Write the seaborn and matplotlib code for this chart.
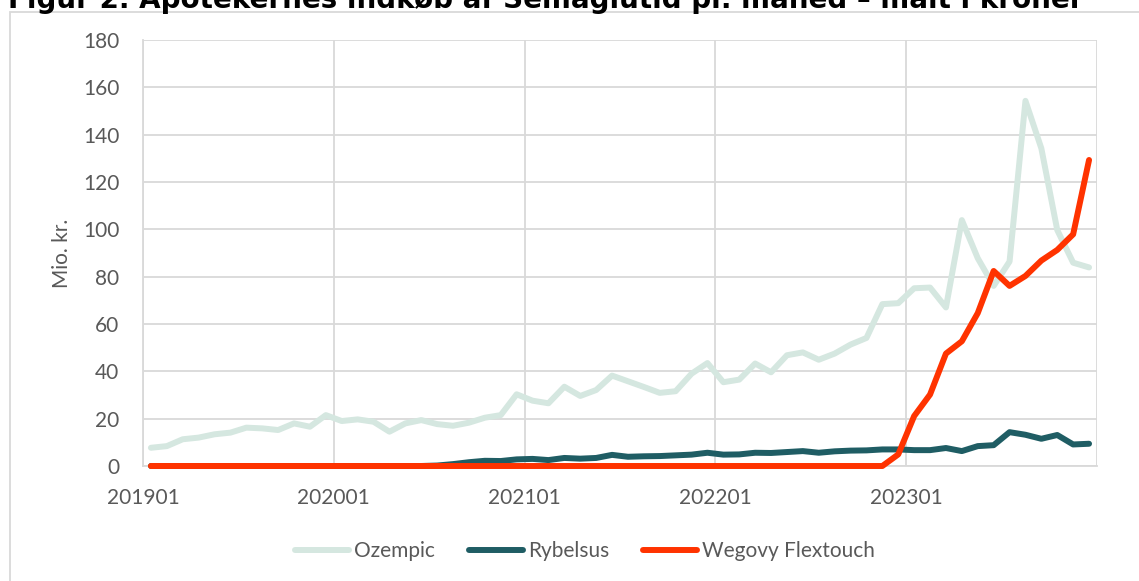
import pandas as pd
import seaborn as sns
import matplotlib.pyplot as plt
from matplotlib.patches import Rectangle

# data (Mio. kr. per month, 2019-01 .. 2023-12)
years = [2019, 2020, 2021, 2022, 2023]
months = [f"{y}{m:02d}" for y in years for m in range(1, 13)]

ozempic = [
    7.7, 8.4, 11.3, 12.0, 13.4, 14.1, 16.2, 15.9, 15.2, 18.0, 16.6, 21.5,
    19.0, 19.7, 18.7, 14.5, 18.0, 19.4, 17.7, 17.0, 18.3, 20.4, 21.5, 30.3,
    27.6, 26.5, 33.5, 29.6, 32.1, 38.2, 35.8, 33.4, 30.9, 31.6, 39.0, 43.5,
    35.4, 36.5, 43.3, 39.6, 46.8, 48.0, 44.9, 47.5, 51.3, 54.1, 68.4, 68.8,
    75.1, 75.4, 67.0, 103.9, 87.8, 76.1, 86.4, 154.3, 134.2, 99.7, 85.9, 83.9,
]
rybelsus = [
    0, 0, 0, 0, 0, 0, 0, 0, 0, 0, 0, 0,
    0, 0, 0, 0, 0, 0, 0.2, 0.8, 1.6, 2.2, 2.1, 2.8,
    3.0, 2.5, 3.4, 3.1, 3.4, 4.7, 3.9, 4.1, 4.2, 4.5, 4.8, 5.6,
    4.8, 4.9, 5.6, 5.5, 5.9, 6.3, 5.6, 6.2, 6.5, 6.6, 7.0, 7.0,
    6.7, 6.7, 7.6, 6.3, 8.4, 8.8, 14.3, 13.2, 11.5, 13.1, 9.1, 9.4,
]
wegovy = [
    0, 0, 0, 0, 0, 0, 0, 0, 0, 0, 0, 0,
    0, 0, 0, 0, 0, 0, 0, 0, 0, 0, 0, 0,
    0, 0, 0, 0, 0, 0, 0, 0, 0, 0, 0, 0,
    0, 0, 0, 0, 0, 0, 0, 0, 0, 0, 0, 4.9,
    21.1, 30.2, 47.5, 52.7, 64.6, 82.4, 76.1, 80.3, 86.8, 91.3, 97.9, 129.3,
]
series_names = ["Ozempic", "Rybelsus", "Wegovy Flextouch"]
colors = ["#d5e7e0", "#1f5d64", "#ff3300"]

title = "Figur 2. Apotekernes indkøb af Semaglutid pr. måned \u2013 målt i kroner"

df = pd.DataFrame({
    "idx": list(range(len(months))) * 3,
    "value": ozempic + rybelsus + wegovy,
    "series": [s for s in series_names for _ in months],
})

sns.set_theme(style="white")
plt.rcParams["font.family"] = ["Lato", "DejaVu Sans"]
grid_c = "#d9d9d9"
text_c = "#595959"

fig = plt.figure(figsize=(11.39, 5.81), dpi=100)
ax = fig.add_axes([143 / 1139, 1 - 466 / 581, 954 / 1139, 426 / 581])

sns.lineplot(data=df, x="idx", y="value", hue="series", hue_order=series_names,
             palette=colors, linewidth=4.3, ax=ax, legend=False, sort=False)
for line in ax.get_lines():
    line.set_solid_capstyle("round")
    line.set_solid_joinstyle("round")
    line.set_clip_on(False)
    line.set_zorder(3)

ax.set_xlim(-0.5, len(months) - 0.5)
ax.set_ylim(0, 180)
ax.set_yticks(range(0, 181, 20))
xt = [i - 0.5 for i in range(0, len(months) + 1, 12)]
ax.set_xticks(xt)
ax.set_xticklabels([months[i] for i in range(0, len(months), 12)] + [""])
ax.grid(True, color=grid_c, linewidth=1.3)
ax.set_axisbelow(True)
for side in ["top", "right"]:
    ax.spines[side].set_visible(False)
for side in ["left", "bottom"]:
    ax.spines[side].set_color(grid_c)
    ax.spines[side].set_linewidth(1.3)
    ax.spines[side].set_zorder(1)
ax.tick_params(axis="y", length=0, pad=17, labelsize=15, labelcolor=text_c)
ax.tick_params(axis="x", length=6, width=1.3, color=grid_c, pad=10,
               labelsize=15, labelcolor=text_c, direction="out")
ax.set_xlabel("")
ax.set_ylabel("Mio. kr.", fontsize=15, color=text_c)
ax.yaxis.set_label_coords(-0.074, 0.5)

handles = ax.get_lines()[:3]
leg = fig.legend(handles, series_names, loc="center", bbox_to_anchor=(585 / 1139, 1 - 551 / 581),
                 ncol=3, frameon=False, fontsize=15, handlelength=2.6, handletextpad=0.25,
                 columnspacing=1.6)
for t in leg.get_texts():
    t.set_color(text_c)

# outer chart box and clipped title
fig.patches.append(Rectangle((10 / 1139, -0.1), 1.2, 1.1 - 12 / 581, transform=fig.transFigure,
                             fill=False, edgecolor=grid_c, linewidth=1.3))
fig.text(8 / 1139, 1 - 8 / 581, title, fontsize=20, fontweight="bold", va="baseline",
         family=["DejaVu Sans"], color="black")

fig.savefig("out.png", dpi=100)
